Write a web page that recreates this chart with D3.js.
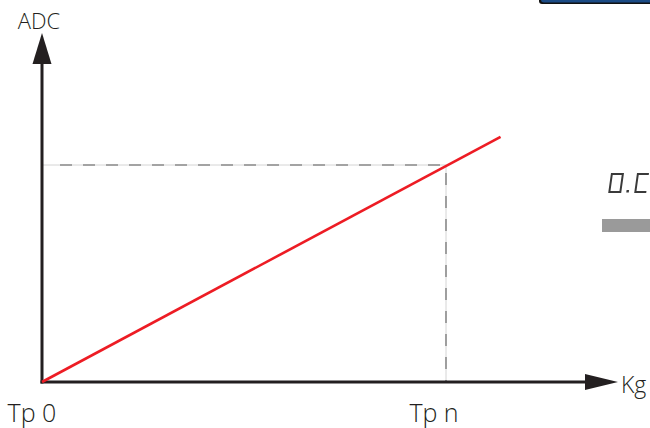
<!DOCTYPE html>
<html><head><meta charset="utf-8">
<script src="https://cdn.jsdelivr.net/npm/d3@7"></script>
<style>
html,body{margin:0;padding:0;background:#fff;overflow:hidden;}
svg{display:block;}
text{font-family:"Open Sans",Lato,sans-serif;font-weight:300;}
</style></head>
<body>
<svg id="chart" width="650" height="428"></svg>
<script>
// Data
const xTickLabels = ["Tp 0", "Tp n"];
const xTickValues = [0, 1];
const lineKg = [0, 1.135];
const lineAdc = [0, 1.13];
const refKg = 1;      // Tp n
const refAdc = 1;     // ADC at Tp n
const axisLabels = {x: "Kg", y: "ADC"};

const svg = d3.select("#chart");
const x0 = 42, y0 = 382;
const x = d3.scaleLinear().domain([0, 1]).range([x0, 446]);
const y = d3.scaleLinear().domain([0, 1]).range([y0, 165]);

// decorative fragments at right edge
svg.append("rect").attr("x", 539).attr("y", -4).attr("width", 120).attr("height", 8).attr("rx", 3).attr("fill", "#111");
svg.append("rect").attr("x", 541).attr("y", -4).attr("width", 120).attr("height", 6.5).attr("rx", 3).attr("fill", "#1c4b85");
// seven-segment style "0.C"
const seg = svg.append("g").attr("transform", "translate(611,173) skewX(-8)")
  .attr("fill", "none").attr("stroke", "#3a3a3a").attr("stroke-width", 2);
seg.append("path").attr("d", "M1,1 H12 V19 H1 Z");
seg.append("rect").attr("x", 18).attr("y", 17).attr("width", 2.5).attr("height", 2.5).attr("fill", "#3a3a3a").attr("stroke", "none");
seg.append("path").attr("d", "M38,1 H27 V19 H38");
svg.append("rect").attr("x", 602).attr("y", 219).attr("width", 48).attr("height", 13).attr("fill", "#9a9a9a");

// reference dashed lines
const ref = svg.append("g");
ref.append("line").attr("x1", x(0)).attr("x2", x(refKg)).attr("y1", y(refAdc)).attr("y2", y(refAdc))
  .attr("stroke", "#d4d4d4").attr("stroke-width", 1);
ref.append("line").attr("x1", x(refKg)).attr("x2", x(refKg)).attr("y1", y(refAdc)).attr("y2", y(0))
  .attr("stroke", "#d4d4d4").attr("stroke-width", 1);
ref.append("line").attr("x1", x(0) + 18).attr("x2", x(refKg)).attr("y1", y(refAdc)).attr("y2", y(refAdc))
  .attr("stroke", "#8c8c8c").attr("stroke-width", 1.6).attr("stroke-dasharray", "12,11");
ref.append("line").attr("x1", x(refKg)).attr("x2", x(refKg)).attr("y1", y(refAdc) + 8).attr("y2", y(0))
  .attr("stroke", "#8c8c8c").attr("stroke-width", 1.6).attr("stroke-dasharray", "12,11");

// axes
const axisColor = "#231f20";
svg.append("line").attr("x1", x0).attr("x2", x0).attr("y1", y0 + 1.5).attr("y2", 60)
  .attr("stroke", axisColor).attr("stroke-width", 3);
svg.append("path").attr("d", `M${x0},33 L${x0 - 9.5},64 L${x0 + 9.5},64 Z`).attr("fill", axisColor);
svg.append("line").attr("x1", x0 - 1.5).attr("x2", 590).attr("y1", y0).attr("y2", y0)
  .attr("stroke", axisColor).attr("stroke-width", 3);
svg.append("path").attr("d", `M618,${y0} L585,${y0 - 8} L585,${y0 + 8} Z`).attr("fill", axisColor);

// red line
const pts = lineKg.map((k, i) => [x(k), y(lineAdc[i])]);
svg.append("path").attr("d", d3.line()(pts)).attr("fill", "none")
  .attr("stroke", "#ed1c24").attr("stroke-width", 2.6);

// labels
svg.append("text").attr("x", 39).attr("y", 29).attr("text-anchor", "middle")
  .attr("font-size", 22).attr("fill", "#231f20").text(axisLabels.y);
svg.append("text").attr("x", 621).attr("y", 393)
  .attr("font-size", 23).attr("fill", "#231f20").text(axisLabels.x);
svg.selectAll("text.tick").data(xTickValues).enter().append("text").attr("class", "tick")
  .attr("x", d => x(d) - 10 + (d === 0 ? 0 : -2)).attr("y", 422).attr("text-anchor", "middle")
  .attr("font-size", 25).attr("fill", "#231f20").text((d, i) => xTickLabels[i]);
</script>
</body></html>
